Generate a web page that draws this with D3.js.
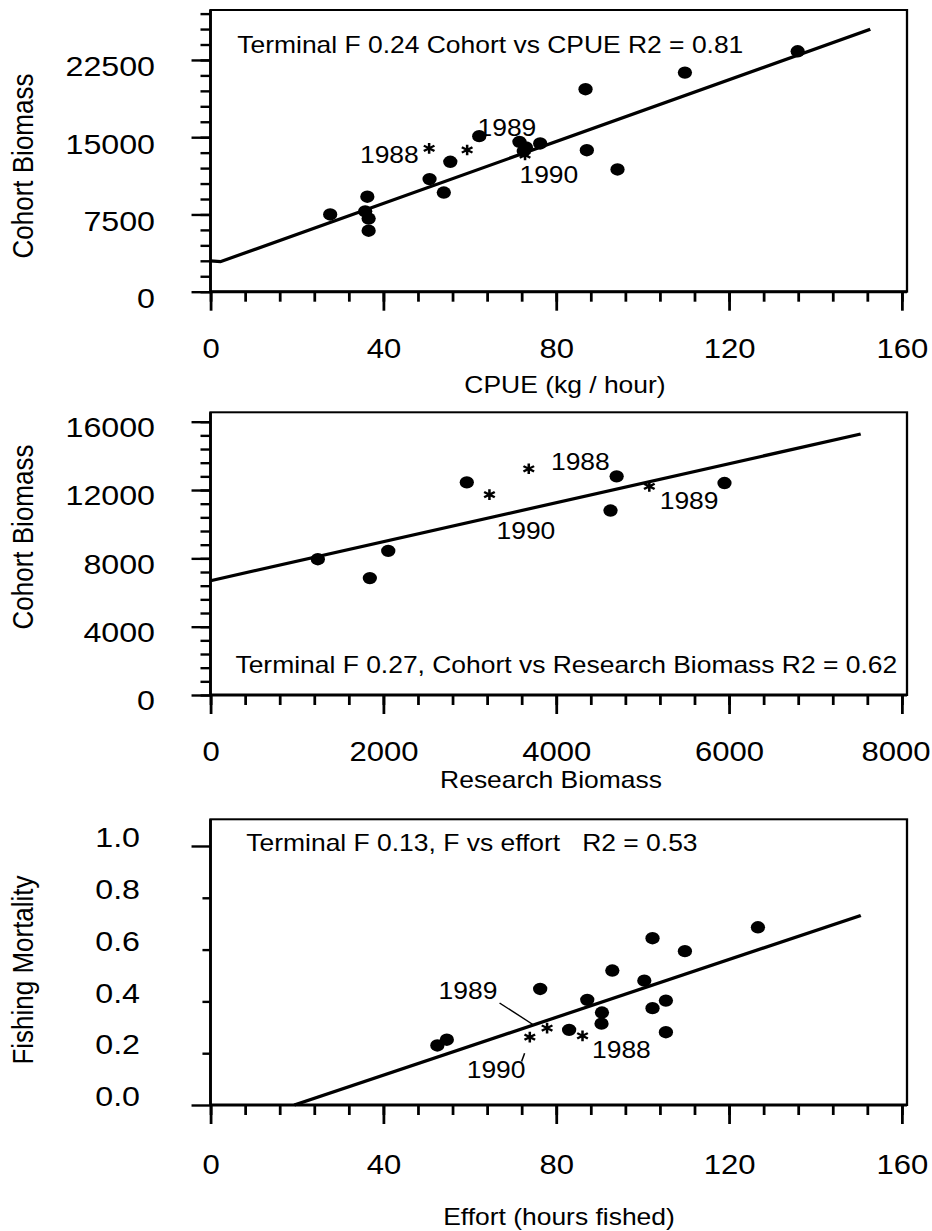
<!DOCTYPE html>
<html lang="en">
<head>
<meta charset="utf-8">
<title>Cohort biomass regressions</title>
<script src="https://d3js.org/d3.v7.min.js"></script>
<style>
  body { margin: 0; background: #fff; }
  svg { display: block; font-family: "Liberation Sans", Arial, sans-serif; }
  .axis { font-family: "Liberation Sans", Arial, sans-serif; }
  .axis path.domain { display: none; }
  .axis line { stroke: #000; stroke-width: 2.4px; }
  .axis text { fill: #000; }
  .fit { fill: none; stroke: #000; stroke-width: 3.2px; }
  .note { white-space: pre; }
</style>
</head>
<body>
<div id="main"></div>
<script>
// ---- values ----
// panel 1: cohort biomass vs CPUE
const cpueX = [27.7, 36.3, 35.8, 36.6, 36.6, 50.7, 54.0, 55.5, 62.2, 71.5, 73.0, 72.5, 76.3, 86.8, 87.1, 94.2, 109.8, 135.9];
const cpueY = [7500, 9220, 7800, 7100, 5920, 10930, 9630, 12610, 15100, 14550, 14000, 13650, 14390, 19660, 13740, 11870, 21270, 23340];
const cpueStarX = [50.6, 59.4, 72.8];
const cpueStarY = [13920, 13760, 13270];
const cpueFitX = [0, 2.3, 152.7];
const cpueFitY = [3000, 2915, 25475];

// panel 2: cohort biomass vs research biomass
const rbX = [1242, 1844, 2057, 2966, 4700, 4629, 5948];
const rbY = [7950, 6845, 8435, 12450, 12800, 10800, 12410];
const rbStarX = [3683, 5078, 3228];
const rbStarY = [13245, 12215, 11730];
const rbFitX = [0, 7524];
const rbFitY = [6690, 15280];

// panel 3: fishing mortality vs effort
const effX = [52.5, 54.7, 76.3, 87.2, 90.6, 90.5, 83.0, 93.0, 100.4, 102.3, 102.3, 105.4, 105.4, 109.8, 126.7];
const effY = [0.230, 0.252, 0.448, 0.406, 0.357, 0.314, 0.290, 0.519, 0.480, 0.644, 0.374, 0.403, 0.281, 0.594, 0.686];
const effStarX = [86.1, 77.9, 73.9];
const effStarY = [0.267, 0.297, 0.262];
const effFitX = [19.4, 150.5];
const effFitY = [0, 0.732];

// ticks
const xTicks160 = [0, 40, 80, 120, 160];
const xTicks8000 = [0, 2000, 4000, 6000, 8000];
const yTicksCpue = [0, 7500, 15000, 22500];
const yTicksRb = [0, 4000, 8000, 12000, 16000];
const yTicksF = [0, 0.2, 0.4, 0.6, 0.8, 1.0];

const notes = [
  'Terminal F 0.24 Cohort vs CPUE R2 = 0.81',
  'Terminal F 0.27, Cohort vs Research Biomass R2 = 0.62',
  'Terminal F 0.13, F vs effort   R2 = 0.53'
];

// ---- drawing ----
const SX = 1.15;   // the scan is stretched sideways, so is everything here
const W = 932, H = 1231;
const svg = d3.select('#main').append('svg').attr('width', W).attr('height', H);
const root = svg.append('g').attr('transform', `scale(${SX},1)`);

const xLeft = 210.5 / SX, xRight = 907 / SX;
const zip = (a, b) => a.map((v, i) => [v, b[i]]);

function drawPanel(p) {
  const g = root.append('g');
  const x = d3.scaleLinear().domain(p.xDomain).range([xLeft, xRight]);
  const y = d3.scaleLinear().domain(p.yDomain).range(p.yRange);
  const bottom = p.yRange[0], top = p.yRange[1];

  g.append('rect')
    .attr('x', xLeft).attr('y', top)
    .attr('width', xRight - xLeft).attr('height', bottom - top)
    .attr('fill', 'none').attr('stroke', '#000').attr('stroke-width', 2);
  // heavier left / bottom axis lines
  g.append('line').attr('x1', xLeft).attr('x2', xLeft).attr('y1', top).attr('y2', bottom)
    .attr('stroke', '#000').attr('stroke-width', 2.4);
  g.append('line').attr('x1', xLeft).attr('x2', xRight).attr('y1', bottom).attr('y2', bottom)
    .attr('stroke', '#000').attr('stroke-width', 3);

  // x axis
  g.append('g').attr('class', 'axis').attr('transform', `translate(0,${bottom})`)
    .call(d3.axisBottom(x).tickValues(p.xMinor).tickSize(10).tickFormat(''));
  const xa = g.append('g').attr('class', 'axis').attr('transform', `translate(0,${bottom})`)
    .call(d3.axisBottom(x).tickValues(p.xMajor).tickSize(19).tickFormat(d3.format('d')));
  xa.selectAll('text').attr('y', p.xLabelY - bottom).attr('dy', '0.35em').attr('font-size', 27);
  // keep the last label inside the page, as in the scan
  xa.selectAll('text').each(function (d) {
    const w = this.getBBox().width;
    const over = (x(d) + w / 2) * SX - (W - 2);
    if (over > 0) d3.select(this).attr('x', -over / SX);
  });

  // y axis
  if (p.yMinor) {
    g.append('g').attr('class', 'axis').attr('transform', `translate(${xLeft},0)`)
      .call(d3.axisLeft(y).tickValues(p.yMinor).tickSize(8.7).tickFormat(''));
  }
  const ya = g.append('g').attr('class', 'axis').attr('transform', `translate(${xLeft},0)`)
    .call(d3.axisLeft(y).tickValues(p.yMajor).tickSize(16.5).tickFormat(d3.format(p.yFmt)));
  if (p.shortTick) ya.selectAll('line').attr('x2', d => p.shortTick(d) ? -7 : -16.5);
  ya.selectAll('text')
    .attr('x', p.yLabelRight / SX - xLeft)
    .attr('dy', '0.35em')
    .attr('transform', `translate(0,${p.yLabelDy})`)
    .attr('font-size', 28);

  // fit line
  g.append('path').attr('class', 'fit')
    .attr('d', d3.line().x(d => x(d[0])).y(d => y(d[1])).curve(d3.curveLinear)(zip(p.fitX, p.fitY)));

  // dots (round in the original, wide here through the stretch)
  g.selectAll('circle.dot').data(zip(p.dotX, p.dotY)).enter().append('circle')
    .attr('class', 'dot')
    .attr('cx', d => x(d[0])).attr('cy', d => y(d[1])).attr('r', 6.2)
    .attr('fill', '#000');

  // asterisks for the recent years
  const star = d3.symbol().type(d3.symbolAsterisk).size(80);
  g.selectAll('path.star').data(zip(p.starX, p.starY)).enter().append('path')
    .attr('class', 'star')
    .attr('transform', d => `translate(${x(d[0])},${y(d[1])})`)
    .attr('d', star).attr('fill', 'none').attr('stroke', '#000').attr('stroke-width', 2.2);

  // year labels
  p.years.forEach(l => {
    g.append('text').text(l.t)
      .attr('x', x(l.x)).attr('y', y(l.y)).attr('dy', '0.35em')
      .attr('text-anchor', l.a || 'start').attr('font-size', 23);
  });
  (p.leaders || []).forEach(s => {
    g.append('line')
      .attr('x1', x(s[0])).attr('y1', y(s[1])).attr('x2', x(s[2])).attr('y2', y(s[3]))
      .attr('stroke', '#000').attr('stroke-width', 1.3);
  });

  // regression note
  g.append('text').attr('class', 'note').text(p.note)
    .attr('x', x(p.noteAt[0])).attr('y', y(p.noteAt[1])).attr('dy', '0.35em')
    .attr('font-size', 23);

  // axis titles
  g.append('text').text(p.xTitle)
    .attr('x', p.xTitleAt[0] / SX).attr('y', p.xTitleAt[1]).attr('dy', '0.35em')
    .attr('text-anchor', 'middle').attr('font-size', 23);
  g.append('text').text(p.yTitle)
    .attr('transform', `translate(${23 / SX},${p.yTitleY}) rotate(-90)`)
    .attr('dy', '0.35em').attr('text-anchor', 'middle').attr('font-size', 26);
}

drawPanel({
  xDomain: [0, 161.2], yDomain: [0, 27350], yRange: [291.7, 10],
  xMajor: xTicks160, xMinor: d3.range(0, 161, 8),
  yMajor: yTicksCpue, yMinor: d3.range(0, 27001, 1500), yFmt: 'd',
  yLabelRight: 155, yLabelDy: 6, xLabelY: 349,
  dotX: cpueX, dotY: cpueY, starX: cpueStarX, starY: cpueStarY,
  fitX: cpueFitX, fitY: cpueFitY,
  years: [
    { t: '1988', x: 48.2, y: 13270, a: 'end' },
    { t: '1989', x: 61.8, y: 15860 },
    { t: '1990', x: 71.5, y: 11330 }
  ],
  note: notes[0], noteAt: [6.2, 23970],
  xTitle: 'CPUE (kg / hour)', xTitleAt: [565, 385],
  yTitle: 'Cohort Biomass', yTitleY: 166
});

drawPanel({
  xDomain: [0, 8060], yDomain: [0, 16550], yRange: [695, 412.3],
  xMajor: xTicks8000, xMinor: d3.range(0, 8001, 400),
  yMajor: yTicksRb, yMinor: d3.range(0, 16001, 800), yFmt: 'd',
  yLabelRight: 155, yLabelDy: 5, xLabelY: 752,
  dotX: rbX, dotY: rbY, starX: rbStarX, starY: rbStarY,
  fitX: rbFitX, fitY: rbFitY,
  years: [
    { t: '1988', x: 3940, y: 13670 },
    { t: '1989', x: 5198, y: 11380 },
    { t: '1990', x: 3310, y: 9600 }
  ],
  note: notes[1], noteAt: [289, 1757],
  xTitle: 'Research Biomass', xTitleAt: [551, 780],
  yTitle: 'Cohort Biomass', yTitleY: 537
});

drawPanel({
  xDomain: [0, 161.2], yDomain: [0, 1.103], yRange: [1105, 819.3],
  xMajor: xTicks160, xMinor: d3.range(0, 161, 8),
  yMajor: yTicksF, yMinor: null, yFmt: '.1f',
  shortTick: d => d > 0.05 && d < 0.95,
  yLabelRight: 140, yLabelDy: -9, xLabelY: 1165,
  dotX: effX, dotY: effY, starX: effStarX, starY: effStarY,
  fitX: effFitX, fitY: effFitY,
  years: [
    { t: '1988', x: 88.3, y: 0.213 },
    { t: '1989', x: 66.4, y: 0.439, a: 'end' },
    { t: '1990', x: 59.3, y: 0.135 }
  ],
  leaders: [[66.9, 0.394, 74.7, 0.310], [72.0, 0.168, 72.7, 0.2]],
  note: notes[2], noteAt: [8.3, 1.01],
  xTitle: 'Effort (hours fished)', xTitleAt: [559, 1217],
  yTitle: 'Fishing Mortality', yTitleY: 970
});
</script>
</body>
</html>
